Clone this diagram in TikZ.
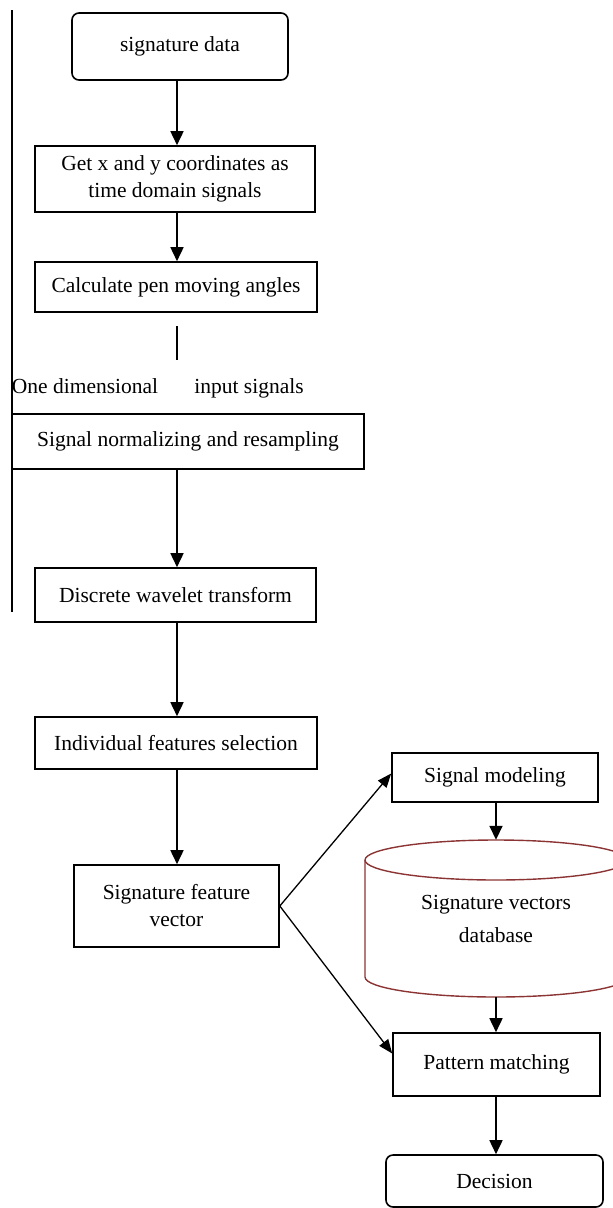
\documentclass[tikz,border=0pt]{standalone}
\usepackage{fontspec}
\setmainfont{Liberation Serif}
\usetikzlibrary{arrows.meta}
\definecolor{dbred}{RGB}{140,52,52}
\begin{document}
\begin{tikzpicture}[x=1pt,y=1pt,
  box/.style={draw, line width=1.6pt, minimum width=#1, inner sep=0pt, align=center,
    font=\fontsize{21.5}{27}\selectfont},
  rbox/.style={box=#1, rounded corners=7pt},
  arr/.style={line width=1.6pt, -{Triangle[width=13pt,length=14pt]}},
  darr/.style={line width=1.3pt, -{Triangle[width=11pt,length=14pt]}},
  lbl/.style={inner sep=0pt, font=\fontsize{21.5}{27}\selectfont}]
\useasboundingbox (0,0) rectangle (613,-1208);
\clip (0,0) rectangle (613,-1208);

\node[rbox=216pt, minimum height=67pt] (sd) at (180,-46.5) {signature data};
\node[box=280pt, minimum height=66pt] (gxy) at (175,-179) {Get x and y coordinates as\\time domain signals};
\node[box=282pt, minimum height=50pt] (calc) at (176,-287) {Calculate pen moving angles};
\node[lbl] (one) at (85,-386) {One dimensional};
\node[lbl] (inp) at (249,-388) {input signals};
\node[box=352pt, minimum height=55pt] (norm) at (188,-441.5) {Signal normalizing and resampling};
\node[box=281pt, minimum height=54pt] (dwt) at (175.5,-595) {Discrete wavelet transform};
\node[box=282pt, minimum height=52pt] (ifs) at (176,-743) {Individual features selection};
\node[box=205pt, minimum height=82pt] (sfv) at (176.5,-906) {Signature feature\\vector};
\node[box=206pt, minimum height=49pt] (sm) at (495,-777.5) {Signal modeling};
\node[box=207pt, minimum height=63pt] (pm) at (496.5,-1064.5) {Pattern matching};
\node[rbox=217pt, minimum height=52pt] (dec) at (494.5,-1181) {Decision};

% database cylinder
\draw[dbred, line width=1.4pt] (365,-860) -- (365,-977) arc[start angle=180, end angle=360, x radius=131, y radius=20] -- (627,-860);
\draw[dbred, line width=1.4pt] (496,-860) ellipse[x radius=131, y radius=20];
\node[inner sep=0pt, minimum width=262pt, minimum height=157pt, align=center,
  font=\fontsize{21.5}{33}\selectfont] (db) at (496,-918.5) {Signature vectors\\database};

% left line and stub
\coordinate (lt) at (12,-10);
\coordinate (lb) at (12,-612);
\draw[line width=1.6pt] (lt) -- (lb);
\coordinate (st) at (177,-326);
\coordinate (sb) at (177,-360);
\draw[line width=1.6pt] (st) -- (sb);

\draw[arr] (sd.south -| 177,0) -- (gxy.north -| 177,0);
\draw[arr] (gxy.south -| 177,0) -- (calc.north -| 177,0);
\draw[arr] (norm.south -| 177,0) -- (dwt.north -| 177,0);
\draw[arr] (dwt.south -| 177,0) -- (ifs.north -| 177,0);
\draw[arr] (ifs.south -| 177,0) -- (sfv.north -| 177,0);
\draw[arr] (sm.south -| 496,0) -- (db.north -| 496,0);
\draw[arr] (db.south -| 496,0) -- (pm.north -| 496,0);
\draw[arr] (pm.south -| 496,0) -- (dec.north -| 496,0);
\draw[darr] (sfv.east) -- ([yshift=4pt]sm.west);
\draw[darr] (sfv.east) -- ([yshift=11pt]pm.west);
\end{tikzpicture}
\end{document}
